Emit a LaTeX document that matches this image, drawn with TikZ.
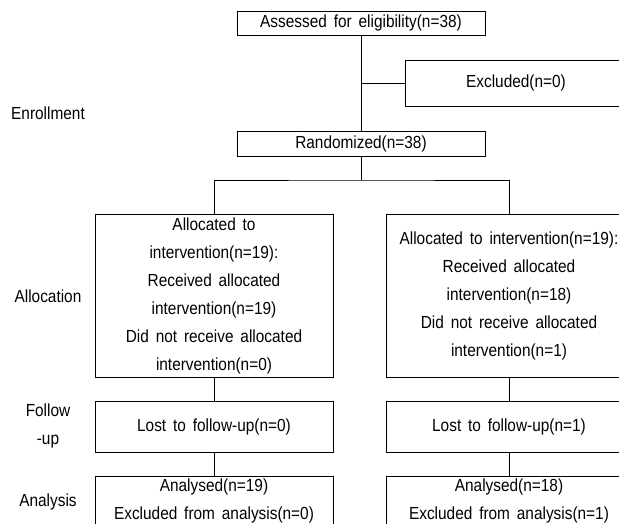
\documentclass[tikz,border=0pt]{standalone}
\usepackage{fontspec}
\setmainfont{Liberation Sans}[FakeStretch=0.88, WordSpace=1.6]
\usetikzlibrary{positioning}

\tikzset{
  box/.style={draw, line width=1pt, inner sep=0pt, align=center, font=\fontsize{17.5}{28}\selectfont},
  stage/.style={inner sep=0pt, align=center, font=\fontsize{17.5}{28}\selectfont},
  link/.style={line width=1pt}
}

\begin{document}
\begin{tikzpicture}[x=1pt,y=-1pt]
\useasboundingbox (0,0) rectangle (619,523);

% stage labels
\node[stage] (enrol) at (48,113) {Enrollment};
\node[stage] (alloc) at (48,296) {Allocation};
\node[stage] (follow) at (48,426) {Follow\\-up};
\node[stage] (anal) at (48,502) {Analysis};

% enrollment
\node[box, minimum width=248, minimum height=24] (assess) at (361,23) {Assessed for eligibility(n=38)};
\node[box, minimum width=222, minimum height=46] (excl) at (516,83) {Excluded(n=0)};
\node[box, minimum width=248, minimum height=25] (rand) at (361,143.5) {Randomized(n=38)};
\coordinate (split) at (361,180);

% allocation
\node[box, minimum width=238, minimum height=163] (allocL) at (214,295.5) {Allocated to\\intervention(n=19):\\Received allocated\\intervention(n=19)\\Did not receive allocated\\intervention(n=0)};
\node[box, minimum width=246, minimum height=163] (allocR) at (509,295.5) {Allocated to intervention(n=19):\\Received allocated\\intervention(n=18)\\Did not receive allocated\\intervention(n=1)};

% follow-up
\node[box, minimum width=238, minimum height=51] (lostL) at (214,426.5) {Lost to follow-up(n=0)};
\node[box, minimum width=246, minimum height=51] (lostR) at (509,426.5) {Lost to follow-up(n=1)};

% analysis
\node[box, minimum width=238, minimum height=50] (analL) at (214,501) {Analysed(n=19)\\Excluded from analysis(n=0)};
\node[box, minimum width=246, minimum height=50] (analR) at (509,501) {Analysed(n=18)\\Excluded from analysis(n=1)};

% connectors
\draw[link] (assess) -- (rand);
\draw[link] (assess.south |- excl) -- (excl.west);
\draw[link] (rand) -- (split);
\draw[link] (allocL.north) |- (split) -| (allocR.north);
\draw[link] (allocL) -- (lostL);
\draw[link] (allocR) -- (lostR);
\draw[link] (lostL) -- (analL);
\draw[link] (lostR) -- (analR);

\end{tikzpicture}
\end{document}
